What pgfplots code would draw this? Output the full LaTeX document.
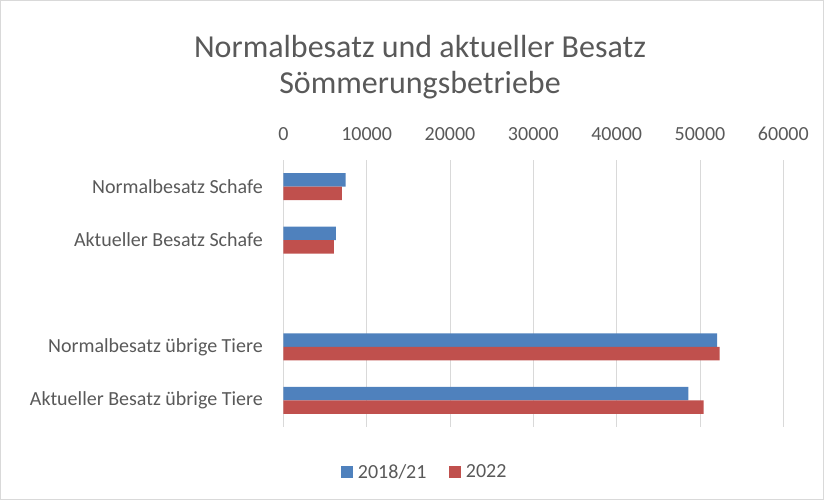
\documentclass[border=0pt]{standalone}
\usepackage{fontspec}
\setmainfont{Carlito}
\usepackage{pgfplots}
\pgfplotsset{compat=1.18}
\definecolor{blueC}{HTML}{4F81BD}
\definecolor{redC}{HTML}{C0504D}
\definecolor{txt}{HTML}{595959}
\definecolor{gridc}{HTML}{D9D9D9}
\begin{document}
\begin{tikzpicture}
\draw[gridc, line width=0.75pt] (0.375pt,-0.375pt) rectangle (617.625pt,-374.625pt);
\node[txt, font=\fontsize{24}{28}\selectfont] at (315pt,-35pt) {Normalbesatz und aktueller Besatz};
\node[txt, font=\fontsize{24}{28}\selectfont] at (315pt,-63.5pt) {Sömmerungsbetriebe};
\begin{axis}[
  at={(212.5pt,-320.25pt)}, anchor=south west,
  scale only axis, width=375pt, height=200.25pt,
  xbar=0pt, bar width=10.1pt,
  xmin=0, xmax=60000,
  ymin=-0.5, ymax=4.5, y dir=reverse,
  enlargelimits=false,
  ytick={0,1,3,4},
  yticklabels={Normalbesatz Schafe, Aktueller Besatz Schafe, Normalbesatz übrige Tiere, Aktueller Besatz übrige Tiere},
  xtick={0,10000,20000,30000,40000,50000,60000},
  xticklabel pos=right,
  scaled x ticks=false,
  axis line style={draw=none},
  major tick style={draw=none},
  xmajorgrids,
  grid style={gridc, line width=0.75pt},
  ticklabel style={font=\fontsize{15}{18}\selectfont, text=txt},
  xticklabel style={/pgf/number format/1000 sep={}, /pgf/number format/assume math mode=true, inner sep=0pt, anchor=south, yshift=14pt},
  yticklabel style={inner sep=0pt, anchor=east, xshift=-11pt},
  legend columns=2,
  legend style={at={(rel axis cs:0.281,-0.169)}, anchor=center, draw=none, fill=none,
    font=\fontsize{15}{18}\selectfont, text=txt,
    nodes={inner sep=0pt},
    /tikz/every odd column/.append style={column sep=3.75pt},
    /tikz/every even column/.append style={column sep=17pt}},
  legend image code/.code={\path[#1] (0pt,-4.4pt) rectangle (8.8pt,4.4pt);},
]
\addplot[fill=blueC, draw=none, bar shift=5.05pt] coordinates {(7470,0) (6310,1) (52040,3) (48600,4)};
\addplot[fill=redC, draw=none, bar shift=-5.05pt] coordinates {(7030,0) (6070,1) (52360,3) (50440,4)};
\legend{2018/21, 2022}
\end{axis}
\end{tikzpicture}
\end{document}
